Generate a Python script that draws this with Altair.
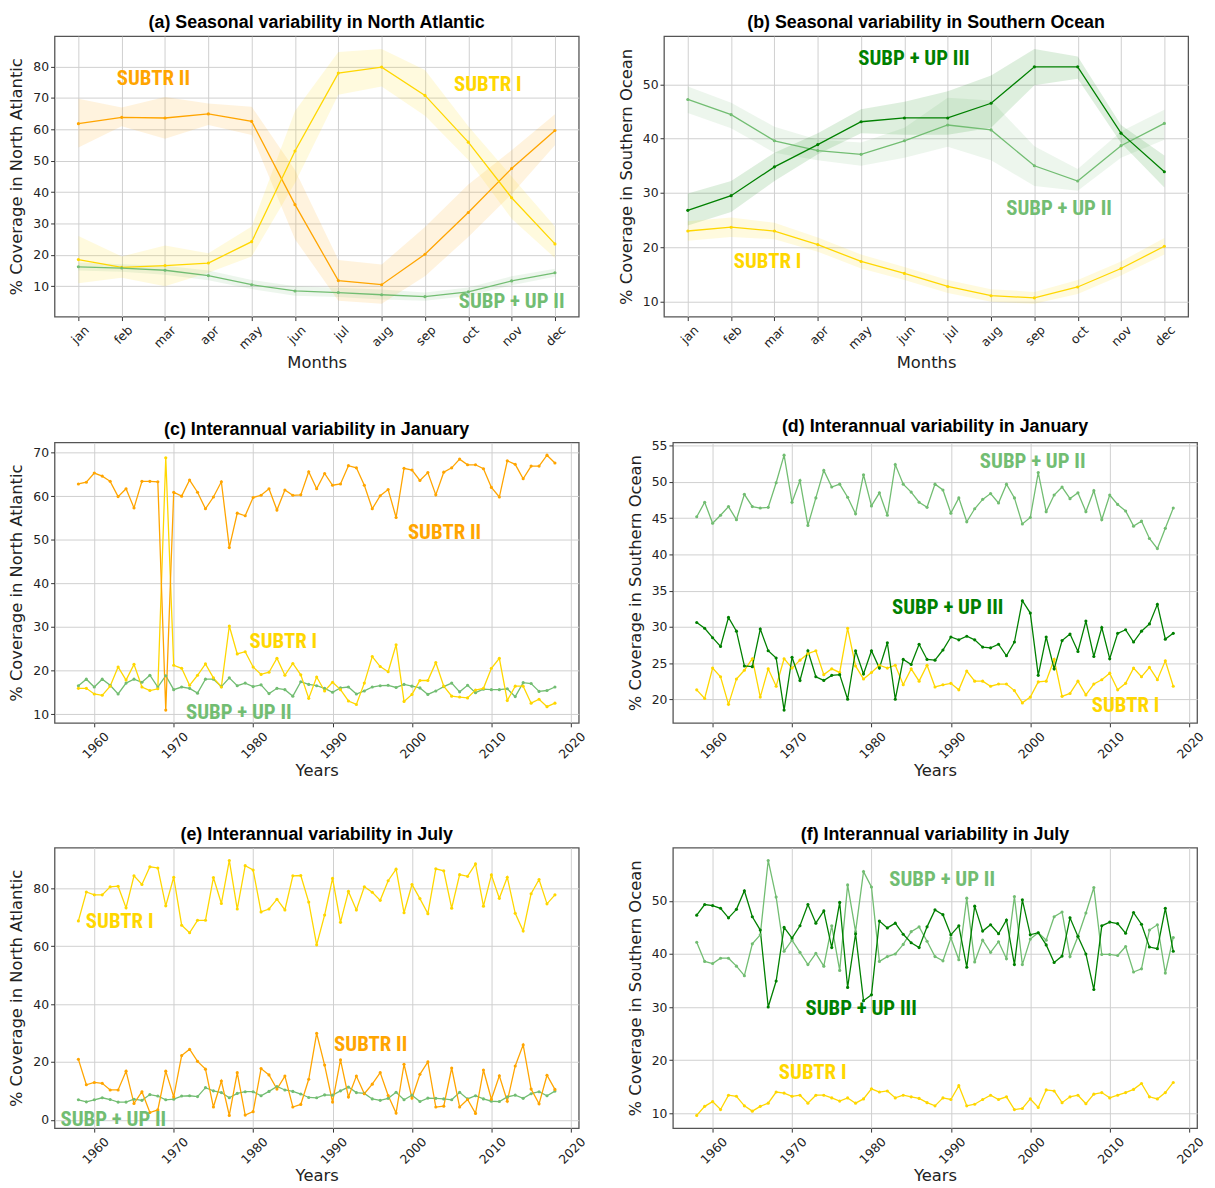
import json
import altair as alt
import pandas as pd

# ---------------- data ----------------
MONTHS = ["jan", "feb", "mar", "apr", "may", "jun", "jul", "aug", "sep", "oct", "nov", "dec"]
YEARS = list(range(1958, 2019))
YEAR_TICKS = [1960, 1970, 1980, 1990, 2000, 2010, 2020]
SERIES = ["SUBTR I", "SUBTR II", "SUBP + UP II", "SUBP + UP III"]
COLORS = ["#FFD700", "#FFA500", "#72BD72", "#008000"]

# (a) seasonal, North Atlantic
A_SUBTR2 = [61.8, 63.8, 63.6, 64.9, 62.5, 36.0, 11.8, 10.5, 20.2, 33.5, 47.5, 59.6]
A_SUBTR2_LO = [54.2, 61.0, 57.0, 61.4, 58.2, 25.0, 5.4, 4.4, 13.2, 25.7, 39.3, 54.9]
A_SUBTR2_HI = [69.7, 66.9, 70.3, 68.2, 67.2, 47.0, 18.4, 16.9, 28.9, 42.4, 53.3, 64.8]
A_SUBTR1 = [18.5, 16.0, 16.6, 17.4, 24.2, 53.1, 77.9, 79.8, 70.8, 55.9, 38.2, 23.5]
A_SUBTR1_LO = [11.0, 12.7, 10.0, 14.3, 19.5, 42.9, 71.0, 73.6, 64.3, 50.2, 31.5, 19.0]
A_SUBTR1_HI = [26.0, 19.5, 23.0, 20.5, 29.0, 65.8, 84.6, 85.6, 78.9, 61.0, 45.0, 29.0]
A_SUBP2 = [16.2, 15.8, 15.1, 13.4, 10.5, 8.5, 8.0, 7.3, 6.7, 8.2, 11.7, 14.3]
A_SUBP2_LO = [15.0, 14.6, 13.7, 11.9, 9.1, 7.0, 6.6, 5.8, 5.4, 6.9, 10.3, 13.0]
A_SUBP2_HI = [17.6, 17.0, 16.5, 15.0, 12.0, 10.0, 9.5, 9.0, 8.0, 9.6, 13.2, 15.6]

# (b) seasonal, Southern Ocean
B_SUBP3 = [26.8, 29.5, 34.8, 38.9, 43.1, 43.8, 43.8, 46.5, 53.2, 53.2, 41.0, 33.9]
B_SUBP3_LO = [24.0, 26.5, 32.2, 37.1, 41.0, 40.7, 40.7, 42.0, 49.8, 51.0, 39.2, 31.0]
B_SUBP3_HI = [29.9, 32.2, 37.4, 41.0, 45.4, 46.8, 48.7, 51.6, 56.5, 55.1, 42.5, 36.9]
B_SUBP2 = [47.2, 44.4, 39.6, 37.8, 37.1, 39.6, 42.5, 41.6, 35.0, 32.2, 38.7, 42.8]
B_SUBP2_LO = [44.7, 41.9, 37.4, 36.0, 35.0, 36.5, 38.5, 36.0, 31.3, 30.4, 36.5, 39.8]
B_SUBP2_HI = [49.6, 46.6, 42.2, 39.8, 39.3, 42.0, 47.5, 47.0, 38.6, 34.4, 41.3, 45.3]
B_SUBTR1 = [23.0, 23.7, 23.0, 20.5, 17.4, 15.2, 12.8, 11.1, 10.7, 12.7, 16.1, 20.2]
B_SUBTR1_LO = [21.2, 21.9, 21.5, 19.2, 16.1, 14.0, 11.6, 10.0, 9.6, 11.4, 14.8, 18.7]
B_SUBTR1_HI = [24.8, 25.5, 24.5, 21.8, 18.7, 16.4, 14.0, 12.3, 11.8, 14.0, 17.4, 21.7]

# (c) January, North Atlantic
C_SUBTR2 = [62.8, 63.2, 65.3, 64.6, 63.4, 59.9, 61.7, 57.3, 63.4, 63.4,
            63.3, 10.9, 60.9, 60.0, 63.7, 60.9, 57.1, 59.8, 63.3, 48.2,
            56.1, 55.5, 59.7, 60.2, 61.7, 56.8, 61.4, 60.2, 60.3, 65.6,
            61.7, 65.2, 62.5, 62.8, 67.0, 66.5, 62.5, 57.1, 60.1, 61.5,
            55.1, 66.4, 66.0, 63.6, 65.4, 60.3, 65.5, 66.5, 68.5, 67.2,
            67.2, 66.3, 62.0, 59.8, 68.1, 67.3, 64.0, 66.9, 66.9, 69.4, 67.6]
C_SUBTR1 = [15.9, 15.9, 14.6, 14.3, 16.4, 20.8, 17.8, 21.4, 16.2, 15.4,
            15.8, 68.8, 21.2, 20.5, 16.6, 18.9, 21.5, 18.3, 16.2, 30.2,
            23.8, 24.3, 20.8, 19.1, 19.6, 22.8, 18.9, 21.6, 19.0, 13.6,
            18.5, 15.3, 17.3, 15.6, 13.0, 12.2, 17.1, 23.2, 20.9, 19.7,
            25.9, 12.9, 14.5, 17.7, 17.7, 21.8, 16.4, 14.1, 13.9, 13.7,
            15.5, 15.9, 20.5, 22.8, 13.1, 16.4, 16.4, 12.5, 13.4, 11.7, 12.5]
C_SUBP2 = [16.5, 18.0, 16.2, 18.0, 16.6, 14.6, 17.1, 18.0, 17.3, 18.9,
           16.2, 18.8, 15.6, 16.2, 15.9, 14.8, 18.0, 18.0, 16.3, 18.3,
           16.5, 17.1, 16.3, 16.7, 14.7, 15.9, 15.6, 14.1, 17.4, 16.8,
           16.5, 15.9, 15.0, 16.0, 16.2, 14.6, 15.3, 16.2, 16.5, 16.6,
           16.1, 16.8, 16.4, 16.0, 14.5, 15.3, 16.3, 17.1, 15.1, 16.6,
           14.9, 15.7, 15.6, 15.6, 15.8, 14.0, 17.2, 17.0, 15.2, 15.4, 16.2]

# (d) January, Southern Ocean
D_SUBP2 = [45.2, 47.2, 44.3, 45.4, 46.6, 44.8, 48.3, 46.6, 46.4, 46.5,
           49.9, 53.7, 47.2, 50.2, 44.0, 47.8, 51.6, 49.3, 49.7, 47.9,
           45.6, 51.0, 46.7, 48.5, 45.4, 52.4, 49.7, 48.6, 47.2, 46.5,
           49.7, 48.9, 45.7, 47.8, 44.5, 46.3, 47.6, 48.4, 47.1, 49.7,
           47.8, 44.2, 45.1, 51.3, 45.9, 48.2, 49.3, 47.7, 48.5, 45.9,
           48.8, 44.8, 48.2, 46.9, 46.0, 43.9, 44.6, 42.2, 40.8, 43.6, 46.4]
D_SUBP3 = [30.6, 29.8, 28.5, 27.3, 31.3, 29.4, 24.6, 24.5, 29.7, 26.7,
           25.7, 18.5, 25.8, 22.6, 26.7, 23.1, 22.6, 23.3, 23.4, 20.0,
           26.7, 23.5, 26.7, 24.3, 27.8, 20.0, 25.5, 24.8, 27.6, 25.5,
           25.4, 26.8, 28.6, 28.2, 28.7, 28.2, 27.2, 27.1, 27.6, 26.0,
           27.9, 33.6, 31.9, 23.3, 28.6, 24.2, 28.1, 29.0, 26.6, 30.8,
           25.9, 29.9, 25.6, 29.1, 29.6, 27.9, 29.4, 30.4, 33.1, 28.3, 29.1]
D_SUBTR1 = [21.3, 20.1, 24.3, 23.1, 19.3, 22.8, 24.0, 25.6, 20.3, 24.2,
            21.8, 25.6, 24.3, 25.4, 26.3, 26.7, 23.4, 24.2, 23.7, 29.8,
            24.6, 22.8, 23.7, 24.7, 24.3, 24.7, 22.0, 24.2, 22.5, 24.7,
            21.7, 22.0, 22.2, 21.3, 23.9, 22.5, 22.5, 21.8, 22.1, 22.1,
            21.2, 19.5, 20.3, 22.4, 22.5, 25.5, 20.4, 20.8, 22.5, 20.6,
            22.1, 22.7, 23.6, 21.3, 22.2, 24.3, 23.1, 24.4, 22.7, 25.3, 21.8]

# (e) July, North Atlantic
E_SUBTR1 = [68.8, 78.8, 77.8, 77.8, 80.6, 80.8, 73.3, 84.4, 81.4, 87.5,
            87.1, 74.0, 83.9, 67.3, 64.7, 69.0, 69.0, 83.8, 74.8, 89.7,
            72.9, 87.9, 86.4, 71.9, 72.9, 76.3, 72.6, 84.4, 84.5, 75.3,
            60.5, 70.8, 83.5, 68.3, 79.0, 72.6, 80.6, 78.7, 75.9, 82.7,
            86.7, 71.6, 81.4, 76.5, 71.3, 86.8, 86.1, 73.2, 84.8, 84.2,
            88.5, 73.9, 84.7, 76.6, 83.9, 71.4, 65.3, 78.2, 83.1, 74.7, 77.8]
E_SUBTR2 = [20.9, 12.1, 12.9, 12.6, 10.3, 10.3, 16.8, 5.6, 9.7, 2.5,
            3.4, 16.8, 7.9, 22.2, 24.4, 20.2, 17.5, 4.4, 13.4, 1.5,
            16.3, 1.6, 2.8, 17.7, 15.5, 10.6, 15.1, 4.4, 5.3, 14.0,
            29.9, 18.9, 6.1, 20.7, 7.9, 15.1, 9.0, 12.3, 16.3, 8.4,
            2.3, 19.2, 7.5, 15.7, 20.0, 4.4, 4.7, 17.9, 4.4, 7.0,
            2.2, 17.2, 7.1, 15.2, 6.4, 18.6, 25.9, 10.6, 5.5, 15.4, 10.5]
E_SUBP2 = [6.9, 6.2, 6.9, 7.6, 7.0, 6.1, 6.1, 7.1, 6.7, 8.7,
           8.2, 6.9, 7.1, 8.2, 8.3, 8.0, 11.1, 10.0, 9.4, 7.6,
           9.1, 9.7, 9.7, 8.3, 9.8, 11.5, 10.3, 9.8, 8.9, 7.7,
           7.6, 8.6, 8.5, 10.0, 11.3, 9.4, 9.1, 7.2, 6.7, 7.4,
           9.5, 6.9, 8.5, 6.3, 7.5, 7.4, 7.2, 6.9, 9.5, 7.2,
           8.3, 7.2, 6.4, 6.3, 7.9, 8.5, 7.4, 9.0, 9.7, 8.3, 9.9]

# (f) July, Southern Ocean
F_SUBP3 = [47.3, 49.3, 49.1, 48.6, 46.8, 48.4, 51.9, 47.0, 44.5, 30.0,
           34.9, 45.0, 43.0, 45.3, 49.3, 45.8, 48.1, 41.2, 49.7, 33.7,
           43.8, 31.2, 32.3, 46.2, 44.9, 45.8, 43.7, 42.1, 41.2, 45.1,
           48.3, 47.4, 43.6, 45.3, 37.5, 49.0, 44.3, 45.5, 43.8, 46.4,
           38.0, 50.2, 43.6, 44.0, 41.7, 38.4, 39.6, 46.8, 43.3, 40.0,
           33.3, 45.3, 46.0, 45.7, 43.9, 47.8, 45.6, 41.3, 41.0, 48.6, 40.5]
F_SUBP2 = [42.2, 38.6, 38.2, 39.2, 39.2, 37.7, 35.9, 41.9, 43.6, 57.6,
           50.7, 40.5, 42.6, 40.3, 38.0, 40.1, 37.7, 45.3, 36.9, 53.0,
           44.2, 55.5, 52.6, 38.6, 39.5, 40.0, 41.8, 44.2, 45.1, 42.4,
           39.5, 38.7, 43.0, 38.9, 50.5, 38.5, 42.6, 40.3, 42.3, 39.1,
           50.8, 38.0, 42.8, 44.0, 42.6, 47.0, 47.9, 39.5, 43.3, 47.7,
           52.5, 39.9, 39.9, 39.7, 41.4, 36.6, 37.2, 44.5, 45.5, 36.4, 43.1]
F_SUBTR1 = [9.6, 11.3, 12.2, 10.7, 13.4, 13.2, 11.4, 10.4, 11.3, 11.9,
            14.0, 13.8, 13.2, 13.4, 11.9, 13.4, 13.4, 12.9, 12.3, 12.9,
            11.9, 12.7, 14.6, 14.0, 14.2, 12.9, 13.4, 13.1, 12.8, 12.0,
            11.4, 12.9, 12.6, 15.2, 11.4, 11.7, 12.6, 13.4, 12.6, 13.1,
            10.7, 10.9, 12.7, 11.1, 14.4, 14.2, 12.0, 13.1, 13.4, 11.8,
            13.6, 13.9, 12.9, 13.4, 13.9, 14.5, 15.6, 13.1, 12.7, 13.9, 15.8]

# ---------------- styling ----------------
W, H = 529, 283
NARROW_FONT = "Liberation Sans Narrow, Arial Narrow, Roboto Condensed, Liberation Sans, Arial, sans-serif"
TITLE_FONT = "Liberation Sans, Arial, Helvetica, sans-serif"
AX_FONT = "DejaVu Sans"
color_scale = alt.Scale(domain=SERIES, range=COLORS)


def padded(vals, frac=0.05):
    lo, hi = min(vals), max(vals)
    m = (hi - lo) * frac
    return [lo - m, hi + m]


def panel(xs, lines, bands, labels, title, ytitle, yticks, seasonal):
    rows = []
    for name, vals in lines:
        for x, v in zip(xs, vals):
            rows.append({"x": x, "series": name, "v": v})
    df = pd.DataFrame(rows)
    allv = list(df["v"])
    brows = []
    for name, lo, hi in bands:
        for x, a, b in zip(xs, lo, hi):
            brows.append({"x": x, "series": name, "lo": a, "hi": b})
        allv += list(lo) + list(hi)
    ydom = padded(allv)
    xdom = padded(xs)

    if seasonal:
        xaxis = alt.Axis(values=list(range(len(MONTHS))),
                         labelExpr=json.dumps(MONTHS) + "[datum.value]",
                         labelAngle=-45, labelAlign="right", labelBaseline="top",
                         labelOffset=4, labelPadding=3, title="Months", titlePadding=3)
    else:
        xaxis = alt.Axis(values=YEAR_TICKS, format="d",
                         labelAngle=-45, labelAlign="right", labelBaseline="top",
                         labelOffset=8, labelPadding=3, title="Years", titlePadding=2)
    xenc = alt.X("x:Q", scale=alt.Scale(domain=xdom, nice=False, zero=False), axis=xaxis)
    yenc = alt.Y("v:Q", scale=alt.Scale(domain=ydom, nice=False, zero=False),
                 axis=alt.Axis(values=yticks, title=ytitle, titlePadding=8))
    cenc = alt.Color("series:N", scale=color_scale, legend=None)

    layers = []
    if brows:
        bdf = pd.DataFrame(brows)
        layers.append(alt.Chart(bdf).mark_area(opacity=0.13).encode(
            x=xenc, y=alt.Y("lo:Q", scale=alt.Scale(domain=ydom, nice=False, zero=False)),
            y2="hi:Q", color=cenc, detail="series:N"))
    layers.append(alt.Chart(df).mark_line(
        strokeWidth=1.3, point=alt.OverlayMarkDef(filled=True, size=10, opacity=1)
    ).encode(x=xenc, y=yenc, color=cenc, detail="series:N"))
    ldf = pd.DataFrame(labels, columns=["series", "x", "v"])
    layers.append(alt.Chart(ldf).mark_text(
        font=NARROW_FONT, fontSize=21, fontWeight="bold"
    ).encode(x=xenc, y=yenc, text="series:N", color=cenc))

    return alt.layer(*layers).properties(
        width=W, height=H,
        title=alt.TitleParams(title, font=TITLE_FONT, fontSize=18, fontWeight="bold",
                              color="black", offset=4))


MI = list(range(12))
pa = panel(MI,
           [("SUBTR II", A_SUBTR2), ("SUBTR I", A_SUBTR1), ("SUBP + UP II", A_SUBP2)],
           [("SUBTR II", A_SUBTR2_LO, A_SUBTR2_HI), ("SUBTR I", A_SUBTR1_LO, A_SUBTR1_HI),
            ("SUBP + UP II", A_SUBP2_LO, A_SUBP2_HI)],
           [("SUBTR II", 1.73, 76.0), ("SUBTR I", 9.45, 74.2), ("SUBP + UP II", 10.0, 5.0)],
           "(a) Seasonal variability in North Atlantic", "% Coverage in North Atlantic",
           [10, 20, 30, 40, 50, 60, 70, 80], True)
pb = panel(MI,
           [("SUBP + UP II", B_SUBP2), ("SUBP + UP III", B_SUBP3), ("SUBTR I", B_SUBTR1)],
           [("SUBP + UP II", B_SUBP2_LO, B_SUBP2_HI), ("SUBP + UP III", B_SUBP3_LO, B_SUBP3_HI),
            ("SUBTR I", B_SUBTR1_LO, B_SUBTR1_HI)],
           [("SUBP + UP III", 5.22, 54.7), ("SUBP + UP II", 8.57, 27.1), ("SUBTR I", 1.84, 17.3)],
           "(b) Seasonal variability in Southern Ocean", "% Coverage in Southern Ocean",
           [10, 20, 30, 40, 50], True)
pc = panel(YEARS,
           [("SUBP + UP II", C_SUBP2), ("SUBTR I", C_SUBTR1), ("SUBTR II", C_SUBTR2)],
           [],
           [("SUBTR II", 2004.1, 51.5), ("SUBTR I", 1983.8, 26.6), ("SUBP + UP II", 1978.2, 10.2)],
           "(c) Interannual variability in January", "% Coverage in North Atlantic",
           [10, 20, 30, 40, 50, 60, 70], False)
pd_ = panel(YEARS,
            [("SUBP + UP II", D_SUBP2), ("SUBTR I", D_SUBTR1), ("SUBP + UP III", D_SUBP3)],
            [],
            [("SUBP + UP II", 2000.3, 52.7), ("SUBP + UP III", 1989.6, 32.6), ("SUBTR I", 2012.0, 19.1)],
            "(d) Interannual variability in January", "% Coverage in Southern Ocean",
            [20, 25, 30, 35, 40, 45, 50, 55], False)
pe = panel(YEARS,
           [("SUBP + UP II", E_SUBP2), ("SUBTR II", E_SUBTR2), ("SUBTR I", E_SUBTR1)],
           [],
           [("SUBTR I", 1963.2, 68.4), ("SUBTR II", 1994.8, 25.8), ("SUBP + UP II", 1962.4, 0.0)],
           "(e) Interannual variability in July", "% Coverage in North Atlantic",
           [0, 20, 40, 60, 80], False)
pf = panel(YEARS,
           [("SUBP + UP II", F_SUBP2), ("SUBP + UP III", F_SUBP3), ("SUBTR I", F_SUBTR1)],
           [],
           [("SUBP + UP II", 1988.9, 54.0), ("SUBP + UP III", 1978.7, 29.7), ("SUBTR I", 1972.6, 17.5)],
           "(f) Interannual variability in July", "% Coverage in Southern Ocean",
           [10, 20, 30, 40, 50], False)

chart = alt.vconcat(
    alt.hconcat(pa, pb, spacing=38),
    alt.hconcat(pc, pd_, spacing=38),
    alt.hconcat(pe, pf, spacing=38),
    spacing=45,
).properties(
    background="white",
    padding={"top": 0, "left": 0, "right": 0, "bottom": 0},
).configure_view(
    stroke="#555555", strokeWidth=1.3
).configure_axis(
    grid=True, gridColor="#cfcfcf", gridWidth=1, domain=False,
    tickColor="#333333", tickSize=4, tickWidth=1,
    labelFont=AX_FONT, labelFontSize=12.5, labelColor="#222222",
    titleFont=AX_FONT, titleFontSize=16.5, titleFontWeight="normal", titleColor="#222222",
)

chart.save("out.html", embed_options={"renderer": "svg", "actions": False})
